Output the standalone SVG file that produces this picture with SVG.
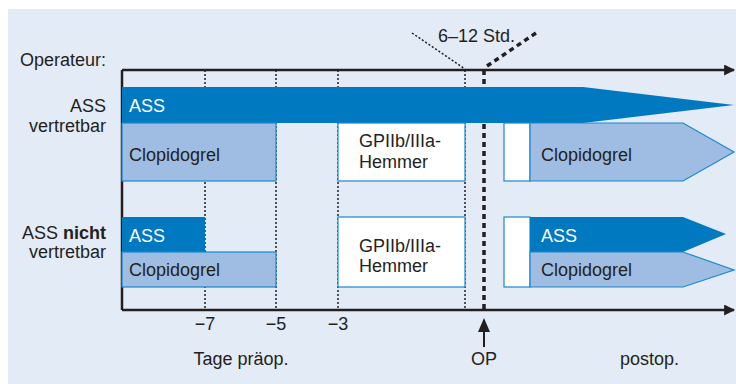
<svg xmlns="http://www.w3.org/2000/svg" width="736" height="384" viewBox="0 0 736 384">
  <defs>
    <style>
      text { font-family: "Liberation Sans", Arial, sans-serif; font-size: 18px; fill: #231f20; }
      .w { fill: #ffffff; }
      .r { text-anchor: end; }
      .m { text-anchor: middle; }
      .dark { fill: #0079c1; }
      .light { fill: #9fbde2; stroke: #1a88cf; stroke-width: 1.2; }
      .blank { fill: #ffffff; stroke: #1a88cf; stroke-width: 1.2; }
      .axis { stroke: #231f20; stroke-width: 2.5; fill: none; }
      .dot { stroke: #231f20; stroke-width: 1.5; stroke-dasharray: 2 2; fill: none; }
      .op { stroke: #231f20; stroke-width: 3.5; stroke-dasharray: 5 4; fill: none; }
    </style>
    <marker id="head" viewBox="0 0 10 10" refX="9" refY="5" markerWidth="4.4" markerHeight="4.4" orient="auto" markerUnits="strokeWidth">
      <path d="M0,0 L10,5 L0,10 z" fill="#231f20"/>
    </marker>
  </defs>

  <!-- background panel -->
  <rect x="0" y="0" width="736" height="384" fill="#ffffff"/>
  <rect x="8" y="9" width="728" height="375" fill="#e3ebf6"/>

  <!-- time grid and axes -->
  <g id="connectors">
    <line class="dot" x1="205" y1="70" x2="205" y2="310"/>
    <line class="dot" x1="276" y1="70" x2="276" y2="310"/>
    <line class="dot" x1="338" y1="70" x2="338" y2="310"/>
    <line class="dot" x1="465" y1="70" x2="465" y2="310"/>
    <line class="dot" x1="412" y1="33" x2="465" y2="69"/>
    <line class="op" x1="484" y1="70" x2="484" y2="310"/>
    <line class="op" x1="487" y1="66" x2="536" y2="33"/>
    <line class="axis" x1="122" y1="70" x2="122" y2="310"/>
    <line class="axis" x1="122" y1="70" x2="734" y2="70" marker-end="url(#head)"/>
    <line class="axis" x1="122" y1="310" x2="734" y2="310" marker-end="url(#head)"/>
    <line stroke="#231f20" stroke-width="2" x1="484" y1="347" x2="484" y2="328"/>
    <path d="M484,318 L490,332 L478,332 z" fill="#231f20"/>
  </g>

  <!-- row 1: ASS replaceable -->
  <g id="ass-top">
    <polygon class="dark" points="122,87 583,87 734,105 583,123 122,123"/>
    <text class="w" x="129" y="112">ASS</text>
  </g>
  <g id="clopi-top-pre">
    <rect class="light" x="122" y="123" width="154" height="58"/>
    <text x="129" y="161">Clopidogrel</text>
  </g>
  <g id="gp-top">
    <rect class="blank" x="338" y="123" width="127" height="58"/>
    <text x="359" y="147">GPIIb/IIIa-</text>
    <text x="359" y="168">Hemmer</text>
  </g>
  <g id="gap-top">
    <rect class="blank" x="504" y="123" width="26" height="58"/>
  </g>
  <g id="clopi-top-post">
    <polygon class="light" points="530,123 683,123 734,152 683,181 530,181"/>
    <text x="541" y="161">Clopidogrel</text>
  </g>

  <!-- row 2: ASS not replaceable -->
  <g id="ass-bottom-pre">
    <rect class="dark" x="122" y="217" width="83" height="35"/>
    <text class="w" x="129" y="242">ASS</text>
  </g>
  <g id="clopi-bottom-pre">
    <rect class="light" x="122" y="252" width="154" height="35"/>
    <text x="129" y="276">Clopidogrel</text>
  </g>
  <g id="gp-bottom">
    <rect class="blank" x="338" y="217" width="127" height="70"/>
    <text x="359" y="252">GPIIb/IIIa-</text>
    <text x="359" y="272">Hemmer</text>
  </g>
  <g id="gap-bottom">
    <rect class="blank" x="504" y="217" width="26" height="70"/>
  </g>
  <g id="ass-bottom-post">
    <polygon class="dark" points="530,217 683,217 726,234 683,252 530,252"/>
    <text class="w" x="541" y="242">ASS</text>
  </g>
  <g id="clopi-bottom-post">
    <polygon class="light" points="530,252 683,252 734,270 683,287 530,287"/>
    <text x="541" y="276">Clopidogrel</text>
  </g>

  <!-- labels -->
  <g id="labels">
    <text class="r" x="106" y="66">Operateur:</text>
    <text class="r" x="106" y="112">ASS</text>
    <text class="r" x="106" y="132">vertretbar</text>
    <text class="r" x="106" y="239">ASS <tspan font-weight="bold">nicht</tspan></text>
    <text class="r" x="106" y="258">vertretbar</text>
    <text class="m" x="205" y="330">−7</text>
    <text class="m" x="276" y="330">−5</text>
    <text class="m" x="338" y="330">−3</text>
    <text class="m" x="241" y="365">Tage präop.</text>
    <text class="m" x="484" y="365">OP</text>
    <text x="620" y="365">postop.</text>
    <text x="438" y="42">6–12 Std.</text>
  </g>
</svg>
